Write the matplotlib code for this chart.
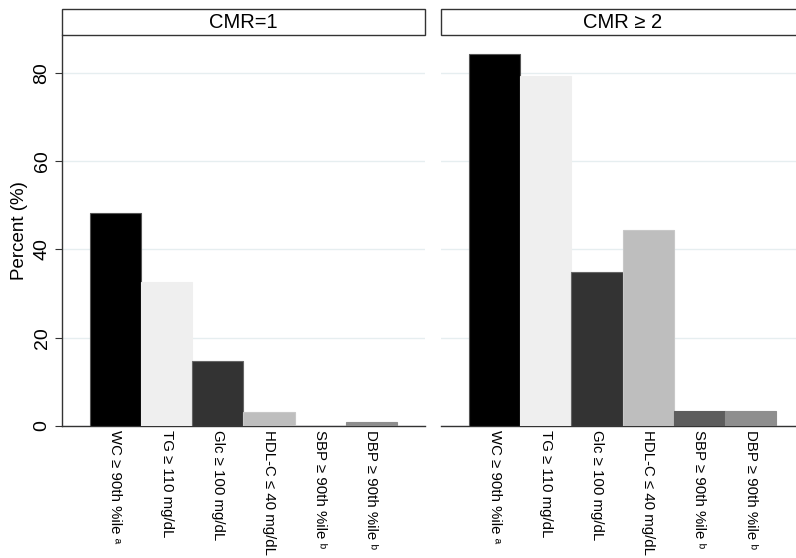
import matplotlib
matplotlib.use("Agg")
import matplotlib.pyplot as plt
from matplotlib.patches import Rectangle

plt.rcParams['font.family'] = ['Liberation Sans', 'DejaVu Sans']

# data
labels = ["WC \u2265 90th %ile \u1d43", "TG \u2265 110 mg/dL", "Glc \u2265 100 mg/dL",
          "HDL-C \u2264 40 mg/dL", "SBP \u2265 90th %ile \u1d47", "DBP \u2265 90th %ile \u1d47"]
panels = ["CMR=1", "CMR \u2265 2"]
cmr1 = [48.3, 32.6, 14.7, 3.1, 0.0, 1.0]
cmr2 = [84.4, 79.4, 34.8, 44.5, 3.5, 3.5]
yticks = [0, 20, 40, 60, 80]

colors = ["#000000", "#efefef", "#333333", "#bebebe", "#5d5d5d", "#8e8e8e"]
edges = ["#555555", "#efefef", "#666666", "#c8c8c8", "#5d5d5d", "#8e8e8e"]

W, H = 796, 558
fig = plt.figure(figsize=(W / 100, H / 100), dpi=100)

def px_axes(x0, x1, ytop, ybot):
    return fig.add_axes([x0 / W, (H - ybot) / H, (x1 - x0) / W, (ybot - ytop) / H])

ax1 = px_axes(61.7, 425, 35, 426)
ax2 = px_axes(441, 804.3, 35, 426)

for i, (ax, vals, title) in enumerate(zip([ax1, ax2], [cmr1, cmr2], panels)):
    x = range(len(vals))
    ax.bar(x, vals, width=1.0, color=colors, edgecolor=edges, linewidth=0.8, zorder=3)
    ax.set_xlim(-1.05, 6.05)
    ax.set_ylim(0, 88.6)
    ax.set_yticks(yticks)
    ax.grid(axis='y', color='#e6eef0', linewidth=1.0, zorder=0)
    ax.set_xticks(list(x))
    ax.set_xticklabels(labels, rotation=270, fontsize=10.8, va='top', ha='center')
    ax.tick_params(axis='x', length=0, pad=3)
    for s in ['top', 'right']:
        ax.spines[s].set_visible(False)
    ax.spines['bottom'].set_color('#333333')
    ax.spines['bottom'].set_linewidth(1.0)
    if i == 0:
        ax.spines['left'].set_color('#333333')
        ax.spines['left'].set_linewidth(1.0)
        ax.tick_params(axis='y', length=5, color='#333333', labelsize=14, pad=3)
        for t in ax.get_yticklabels():
            t.set_rotation(90)
            t.set_va('center')
        ax.set_ylabel("Percent (%)", fontsize=13.5, labelpad=4)
    else:
        ax.spines['left'].set_visible(False)
        ax.tick_params(axis='y', length=0, labelleft=False)
    # header strip
    strip = Rectangle((0, 1.0), 1.0, 26 / 391, transform=ax.transAxes, clip_on=False,
                      facecolor='white', edgecolor='#333333', linewidth=1.0)
    ax.add_patch(strip)
    ax.text(0.5, 1.0 + 13 / 391, title, transform=ax.transAxes, ha='center', va='center',
            fontsize=14.5)

fig.savefig("out.png", dpi=100)
